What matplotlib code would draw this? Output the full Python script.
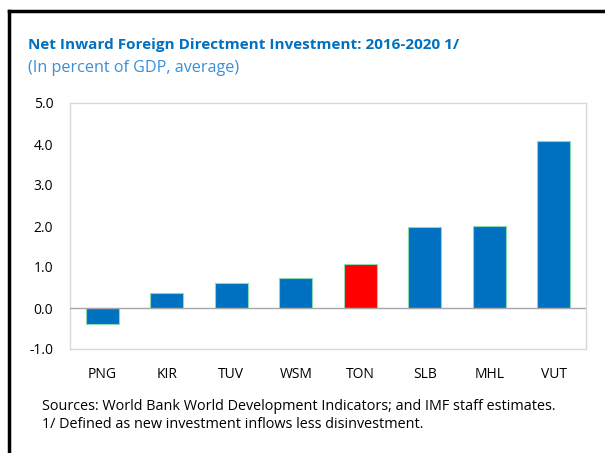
import matplotlib
matplotlib.use("Agg")
import matplotlib.pyplot as plt
from matplotlib.lines import Line2D

countries = ["PNG", "KIR", "TUV", "WSM", "TON", "SLB", "MHL", "VUT"]
fdi_pct_gdp = [-0.40, 0.37, 0.62, 0.74, 1.07, 1.97, 2.01, 4.07]
highlight = "TON"
y_ticks = [-1.0, 0.0, 1.0, 2.0, 3.0, 4.0, 5.0]

BLUE = "#0070C0"
RED = "#FF0000"

plt.rcParams["font.family"] = ["Open Sans", "DejaVu Sans"]

W, H = 605, 453
fig = plt.figure(figsize=(W / 100, H / 100), dpi=100)
ax = fig.add_axes([70 / W, 1 - 349 / H, (586 - 70) / W, (349 - 103) / H])

colors = [RED if c == highlight else BLUE for c in countries]
ax.bar(range(len(countries)), fdi_pct_gdp, width=0.51, color=colors,
       edgecolor="#8fd9b0", linewidth=0.8, zorder=2)
ax.axhline(0, color="#a6a6a6", linewidth=1.0, zorder=3)

ax.set_xlim(-0.5, len(countries) - 0.5)
ax.set_ylim(-1.0, 5.0)
ax.set_yticks(y_ticks)
ax.set_yticklabels([f"{v:.1f}" for v in y_ticks])
ax.set_xticks(range(len(countries)))
ax.set_xticklabels(countries)
ax.tick_params(length=0, labelsize=10, colors="#000000")
ax.tick_params(axis="y", pad=12)
ax.tick_params(axis="x", pad=13)
for s in ax.spines.values():
    s.set_color("#d9d9d9")
    s.set_linewidth(1.0)

fig.text(28 / W, 1 - 45 / H, "Net Inward Foreign Directment Investment: 2016-2020 1/",
         color=BLUE, fontsize=11, fontweight="bold", va="center", ha="left")
fig.text(28 / W, 1 - 68 / H, "(In percent of GDP, average)",
         color="#3a8fd6", fontsize=11.6, va="center", ha="left")
fig.text(42 / W, 1 - 407 / H,
         "Sources: World Bank World Development Indicators; and IMF staff estimates.",
         fontsize=10.4, va="center", ha="left")
fig.text(42 / W, 1 - 425 / H, "1/ Defined as new investment inflows less disinvestment.",
         fontsize=10.4, va="center", ha="left")

# black frame on top and left
fig.add_artist(Line2D([9 / W, 1], [1 - 11 / H, 1 - 11 / H], color="black", linewidth=2.5))
fig.add_artist(Line2D([9 / W, 9 / W], [0, 1 - 11 / H], color="black", linewidth=2.5))

fig.savefig("out.png", dpi=100)
